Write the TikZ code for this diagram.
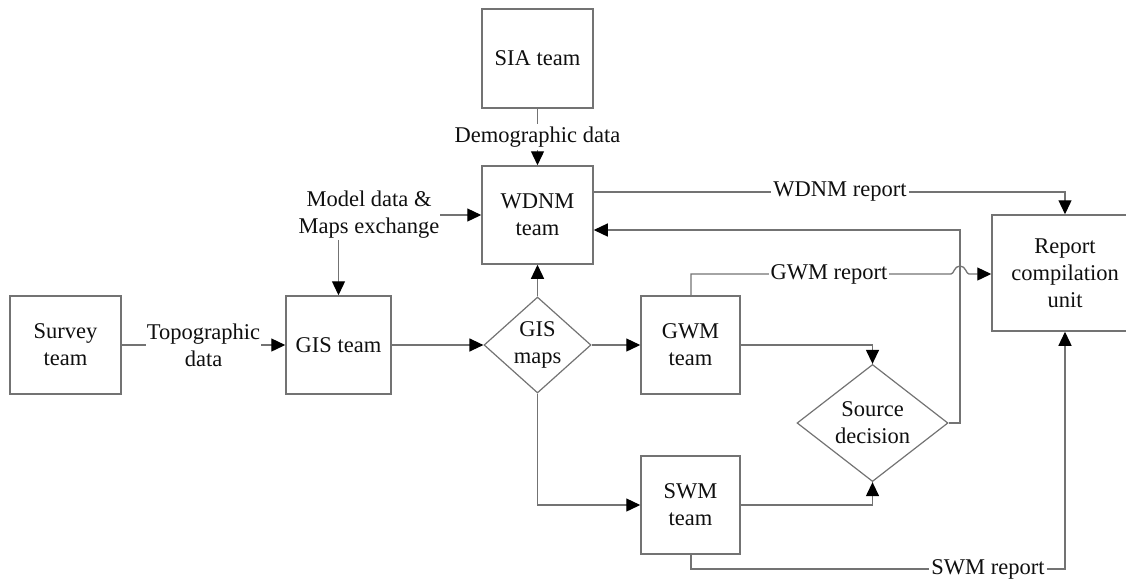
\documentclass[tikz,border=0pt]{standalone}
\usepackage{fontspec}
\setmainfont{Liberation Serif}
\usetikzlibrary{arrows.meta,shapes.geometric}
\definecolor{ln}{RGB}{115,115,115}
\definecolor{tx}{RGB}{15,15,15}
\begin{document}
\begin{tikzpicture}[x=1pt,y=-1pt,
  every node/.style={font=\fontsize{22.5}{27}\selectfont, text=tx},
  box/.style={draw=ln, line width=1.5pt, rectangle, inner sep=0pt, align=center},
  dia/.style={draw=ln, line width=1.2pt, diamond, inner sep=0pt, align=center},
  lbl/.style={fill=white, inner sep=2pt, align=center},
  conn/.style={draw=ln, line width=1.3pt},
  arr/.style={conn, -{Triangle[length=14pt,width=13pt,color=black,fill=black]}}
]
\useasboundingbox (0,0) rectangle (1126,582);
\clip (0,0) rectangle (1126,582);

% boxes
\node[box, minimum width=111, minimum height=99] (sia) at (537.5,58.5) {SIA team};
\node[box, minimum width=111, minimum height=98] (wdnm) at (537.5,215) {WDNM\\team};
\node[box, minimum width=111, minimum height=98] (survey) at (65.5,345) {Survey\\team};
\node[box, minimum width=105, minimum height=98] (gis) at (338.5,345) {GIS team};
\node[dia, minimum width=107, minimum height=96] (maps) at (537.5,345) {GIS\\maps};
\node[box, minimum width=99, minimum height=98] (gwm) at (690.5,345) {GWM\\team};
\node[box, minimum width=99, minimum height=98] (swm) at (690.5,505) {SWM\\team};
\node[dia, minimum width=151, minimum height=96] (src) at (872.5,423) {Source\\decision};
\node[box, minimum width=146, minimum height=116] (report) at (1065,273) {Report\\compilation\\unit};
\node[inner sep=1pt, align=center] (model) at (369,215) {Model data \&\\Maps exchange};

% coordinates
\coordinate (fb) at (960,230);
\coordinate (wr) at (1065,192);
\coordinate (gr) at (691,274);
\coordinate (sr) at (691,569);

% connectors
\draw[arr] (sia) -- node[lbl, inner sep=3pt] {Demographic data} (wdnm);
\draw[arr] (survey) -- node[lbl, inner sep=1pt] {Topographic\\data} (gis);
\draw[arr] (model.east) -- (wdnm.west);
\draw[arr] (gis.north |- model.south) -- (gis.north);
\draw[arr] (gis) -- (maps);
\draw[arr] (maps.north) -- (wdnm.south);
\draw[arr] (maps.east) -- (gwm.west);
\draw[arr] (maps.south) |- (swm.west);
\draw[arr] (gwm.east) -| (src.north);
\draw[arr] (swm.east) -| (src.south);
\draw[arr] (src.east) -| (fb) -- (fb -| wdnm.east);
\draw[arr] (wdnm.east |- wr) -- (wr) -- (report.north);
\draw[arr] (gwm.north -| gr) -- (gr) -- (951,274)
  .. controls (954,274) and (954,266) .. (960,266)
  .. controls (966,266) and (966,274) .. (969,274) -- (report.west |- gr);
\draw[arr] (swm.south -| sr) -- (sr) -- (sr -| report.south) -- (report.south);

% labels on lines
\node[lbl] (lw) at (840,192) {WDNM report};
\node[lbl] (lg) at (829,274) {GWM report};
\node[lbl] (ls) at (988,569) {SWM report};
\end{tikzpicture}
\end{document}
